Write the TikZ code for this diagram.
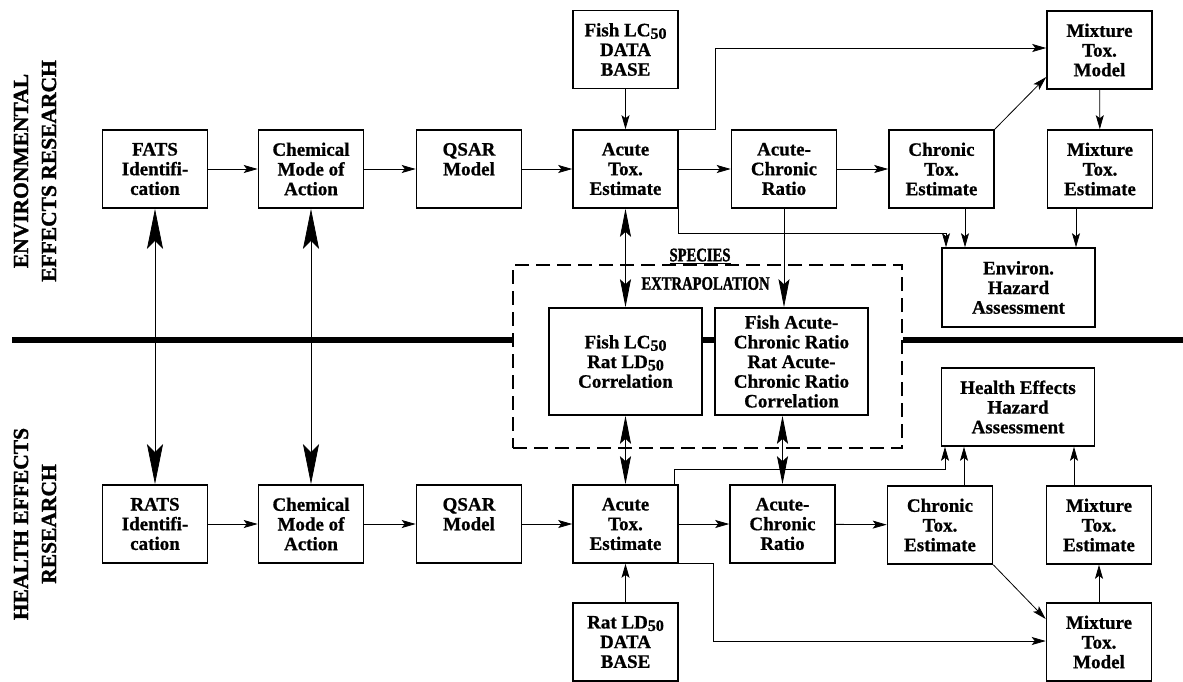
\documentclass[tikz,border=0pt]{standalone}
\usepackage{fontspec}
\setmainfont{Liberation Serif}
\newfontfamily\condfont[FakeStretch=0.77,FakeBold=1.5]{Liberation Serif Bold}
\newfontfamily\sidefont[FakeBold=1.5]{Liberation Serif Bold}
\newfontfamily\boxfont[FakeBold=0.8]{Liberation Serif Bold}
\usetikzlibrary{arrows.meta,calc}
\newcommand\sbfifty{\raisebox{-2.5pt}{\fontsize{16}{16}\selectfont 50}}
\begin{document}
\begin{tikzpicture}[x=1pt,y=-1pt,
  box/.style={draw,line width=1.6pt,fill=white,minimum width=105pt,minimum height=78pt,inner sep=0pt,align=center,font=\boxfont\fontsize{19}{19.7}\selectfont},
  wbox/.style={box,minimum width=153pt},
  conn/.style={line width=0.8pt},
  sh/.tip={Stealth[length=14pt,width=8pt,inset=3pt]},
  mh/.tip={Stealth[length=28pt,width=11pt,inset=5pt]},
  bh/.tip={Stealth[length=40pt,width=16pt,inset=8pt]},
  sarr/.style={conn,-sh},
  marr/.style={conn,mh-mh},
  marr1/.style={conn,-mh},
  barr/.style={conn,bh-bh},
  sep/.style={line width=6pt},
  side/.style={rotate=90,align=center,font=\sidefont\fontsize{21.5}{28}\selectfont},
  cond/.style={font=\condfont\fontsize{19}{19}\selectfont}
]
\useasboundingbox (0,0) rectangle (1183,681);

% species extrapolation dashed frame
\node[draw,line width=1.6pt,dash pattern=on 14pt off 7pt,minimum width=389pt,minimum height=183pt,inner sep=0pt] (spx) at (707.5,356.5) {};
\node[cond] (spc) at (700,256) {\underline{SPECIES}};
\node[cond] (extr) at (705.5,283.5) {EXTRAPOLATION};

% side labels
\node[side] (envlab) at (35,171) {ENVIRONMENTAL\\EFFECTS RESEARCH};
\node[side] (hlthlab) at (35,524) {HEALTH EFFECTS\\RESEARCH};

% boxes top
\node[box] (fats) at (155,169) {FATS\\Identifi-\\cation};
\node[box] (chemT) at (311,169) {Chemical\\Mode of\\Action};
\node[box] (qsarT) at (469,169) {QSAR\\Model\\~};
\node[box] (acuteT) at (625.5,169) {Acute\\Tox.\\Estimate};
\node[box] (fishdb) at (625.5,49.5) {Fish LC\sbfifty\\DATA\\BASE};
\node[box] (acrT) at (784,169) {Acute-\\Chronic\\Ratio};
\node[box] (chronT) at (941.5,169) {Chronic\\Tox.\\Estimate};
\node[box] (mixmodT) at (1099.5,50) {Mixture\\Tox.\\Model};
\node[box] (mixestT) at (1100,169) {Mixture\\Tox.\\Estimate};
\node[wbox,minimum height=79pt] (environ) at (1018.5,287.5) {Environ.\\Hazard\\Assessment};

% boxes middle
\node[wbox,minimum height=107pt] (corr1) at (625.5,361.5) {Fish LC\sbfifty\\Rat LD\sbfifty\\Correlation};
\node[wbox,minimum height=107pt] (corr2) at (791.5,361.5) {Fish Acute-\\Chronic Ratio\\Rat Acute-\\Chronic Ratio\\Correlation};

% separator line
\coordinate (sepL) at (12,340);
\coordinate (sepR) at (1183,340);
\draw[sep] (sepL) -- (sepL -| spx.west);
\draw[sep] (sepL -| corr1.east) -- (sepL -| corr2.west);
\draw[sep] (sepL -| spx.east) -- (sepR);

% boxes bottom
\node[box] (rats) at (155,524) {RATS\\Identifi-\\cation};
\node[box] (chemB) at (311,524) {Chemical\\Mode of\\Action};
\node[box] (qsarB) at (469,524) {QSAR\\Model\\~};
\node[box] (acuteB) at (625.5,524) {Acute\\Tox.\\Estimate};
\node[box] (ratdb) at (625.5,642) {Rat LD\sbfifty\\DATA\\BASE};
\node[box] (acrB) at (782.5,524) {Acute-\\Chronic\\Ratio};
\node[box] (chronB) at (940,525) {Chronic\\Tox.\\Estimate};
\node[box] (mixestB) at (1099,525) {Mixture\\Tox.\\Estimate};
\node[box] (mixmodB) at (1099,642) {Mixture\\Tox.\\Model};
\node[wbox] (health) at (1018,407) {Health Effects\\Hazard\\Assessment};

% helper coordinates
\coordinate (k1) at (715,48);
\coordinate (c77) at (0,77);
\coordinate (xE1) at (965,0);
\coordinate (xE2) at (1076,0);
\coordinate (k2) at (946,233);
\coordinate (k3) at (945,469);
\coordinate (xH1) at (964,0);
\coordinate (xH2) at (1074,0);
\coordinate (c619) at (0,619);
\coordinate (k4) at (713,641);

% top connectors
\draw[sarr] (fats) -- (chemT);
\draw[sarr] (chemT) -- (qsarT);
\draw[sarr] (qsarT) -- (acuteT);
\draw[sarr] (acuteT) -- (acrT);
\draw[sarr] (acrT) -- (chronT);
\draw[sarr] (fishdb) -- (acuteT);
\draw[sarr] (acuteT.north east) -| (k1) -- (k1 -| mixmodT.west);
\draw[sarr] (chronT.north east) -- (mixmodT.west |- c77);
\draw[sarr] (mixmodT) -- (mixestT);
\draw[sarr] (mixestT.south -| xE2) -- (environ.north -| xE2);
\draw[sarr] (chronT.south -| xE1) -- (environ.north -| xE1);
\draw[sarr] (acuteT.south east) |- (k2) -- (k2 |- environ.north);
\draw[marr1] (acrT.south) -- (acrT.south |- corr2.north);
\draw[marr] (acuteT) -- (corr1);

% bottom connectors
\draw[sarr] (rats) -- (chemB);
\draw[sarr] (chemB) -- (qsarB);
\draw[sarr] (qsarB) -- (acuteB);
\draw[sarr] (acuteB) -- (acrB);
\draw[sarr] (acrB) -- (chronB);
\draw[sarr] (ratdb) -- (acuteB);
\draw[sarr] ($(acuteB.north east)+(-4,0)$) |- (k3) -- (k3 |- health.south);
\draw[sarr] (chronB.north -| xH1) -- (health.south -| xH1);
\draw[sarr] (mixestB.north -| xH2) -- (health.south -| xH2);
\draw[sarr] (mixmodB) -- (mixestB);
\draw[sarr] (chronB.south east) -- (mixmodB.west |- c619);
\draw[sarr] (acuteB.south east) -| (k4) -- (k4 -| mixmodB.west);
\draw[marr] (corr1) -- (acuteB);
\draw[marr] (acrB.north) -- (acrB.north |- corr2.south);

% cross-domain connectors
\draw[barr] (fats) -- (rats);
\draw[barr] (chemT) -- (chemB);
\end{tikzpicture}
\end{document}
